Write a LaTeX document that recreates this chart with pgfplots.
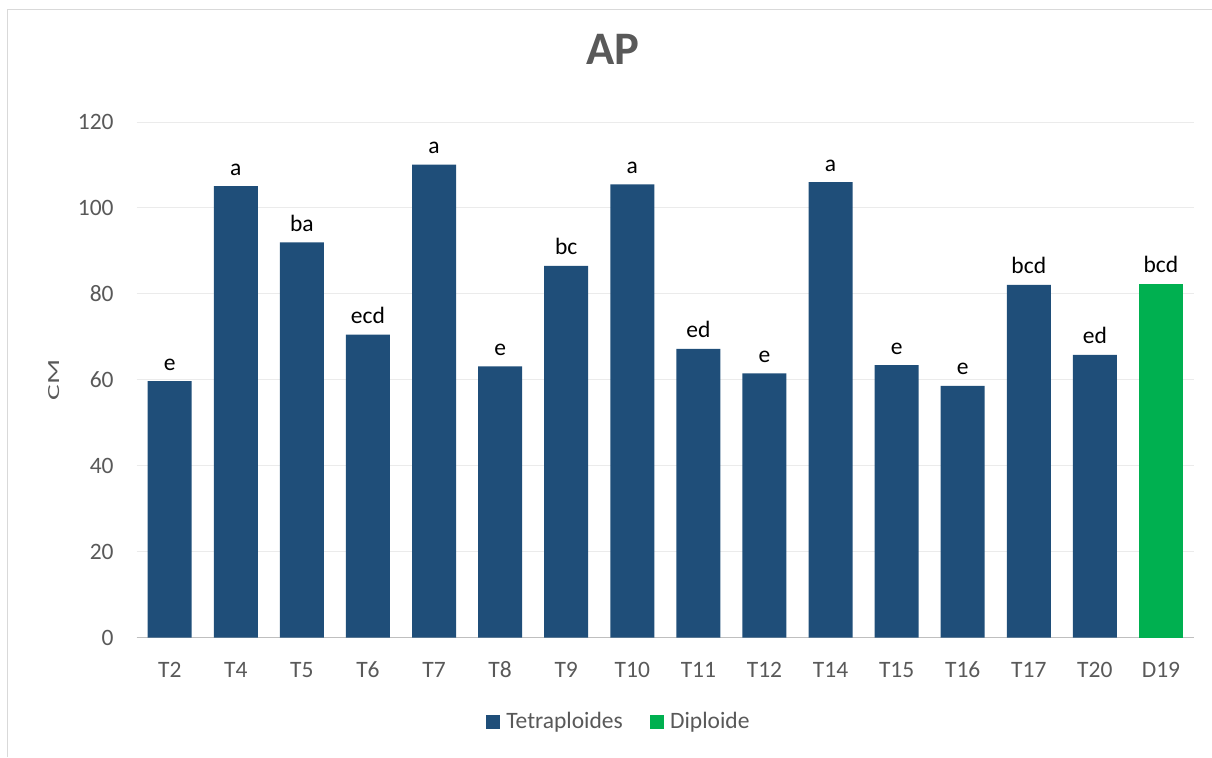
\documentclass[border=0pt]{standalone}
\usepackage{fontspec}
\setmainfont{Carlito}
\usepackage{pgfplots}
\pgfplotsset{compat=1.18}

\definecolor{tetra}{HTML}{1F4E79}
\definecolor{diplo}{HTML}{00B050}
\definecolor{txt}{HTML}{595959}
\definecolor{gridc}{HTML}{EBEBEB}
\definecolor{axisc}{HTML}{BFBFBF}
\definecolor{framec}{HTML}{D9D9D9}

\newcommand{\lblfont}{\fontsize{11.75}{14}\selectfont}

\pgfplotsset{
  sqlegend/.style={legend image code/.code={\fill[##1] (0pt,-3.42pt) rectangle (6.85pt,3.42pt);}},
}

\begin{document}
\begin{tikzpicture}
\useasboundingbox (0,0) rectangle (606pt,378.5pt);
\draw[framec, line width=0.6pt] (3.65pt,0) -- (3.65pt,373.85pt) -- (606pt,373.85pt);
\begin{axis}[
  scale only axis, width=528.65pt, height=257.75pt,
  at={(68.35pt,59.75pt)}, anchor=south west,
  ybar, bar width=22pt, bar shift=0pt,
  xmin=-0.5, xmax=15.5, ymin=0, ymax=120,
  xtick={0,...,15},
  xticklabels={T2,T4,T5,T6,T7,T8,T9,T10,T11,T12,T14,T15,T16,T17,T20,D19},
  ytick={0,20,...,120},
  major tick length=0pt,
  axis line style={draw=none},
  ymajorgrids, grid style={gridc, line width=0.5pt},
  extra y ticks={0}, extra y tick labels={},
  extra y tick style={grid style={axisc, line width=0.7pt}},
  tick label style={txt, font=\lblfont},
  /pgf/number format/assume math mode=true,
  xticklabel style={anchor=base, yshift=-19.75pt, inner sep=0pt},
  yticklabel style={anchor=east, xshift=-11.35pt, inner sep=0pt},
  point meta=explicit symbolic,
  nodes near coords,
  nodes near coords style={black, font=\lblfont, anchor=base, yshift=5.5pt, inner sep=0pt},
  title={AP},
  title style={at={(axis description cs:0.4503,1.0892)}, anchor=base,
    font=\fontsize{23.3}{28}\selectfont\bfseries, txt, inner sep=0pt},
  ylabel={\scalebox{1.25}[0.72]{CM}},
  ylabel style={at={(axis description cs:-0.0785,0.5)}, anchor=center,
    font=\lblfont, txt, inner sep=0pt},
  legend columns=2,
  legend style={draw=none, at={(axis description cs:0.457,-0.1639)}, anchor=center,
    font=\lblfont, text=txt,
    /tikz/every odd column/.append style={column sep=1.2pt},
    /tikz/every even column/.append style={column sep=11.6pt}},
]
\addplot[fill=tetra, draw=none, sqlegend] coordinates {
  (0,59.7) [e]
  (1,105.1) [a]
  (2,92.0) [ba]
  (3,70.5) [ecd]
  (4,110.1) [a]
  (5,63.1) [e]
  (6,86.5) [bc]
  (7,105.5) [a]
  (8,67.2) [ed]
  (9,61.5) [e]
  (10,106.0) [a]
  (11,63.4) [e]
  (12,58.6) [e]
  (13,82.1) [bcd]
  (14,65.8) [ed]
};
\addplot[fill=diplo, draw=none, sqlegend] coordinates {
  (15,82.3) [bcd]
};
\legend{Tetraploides,Diploide}
\end{axis}
\end{tikzpicture}
\end{document}
